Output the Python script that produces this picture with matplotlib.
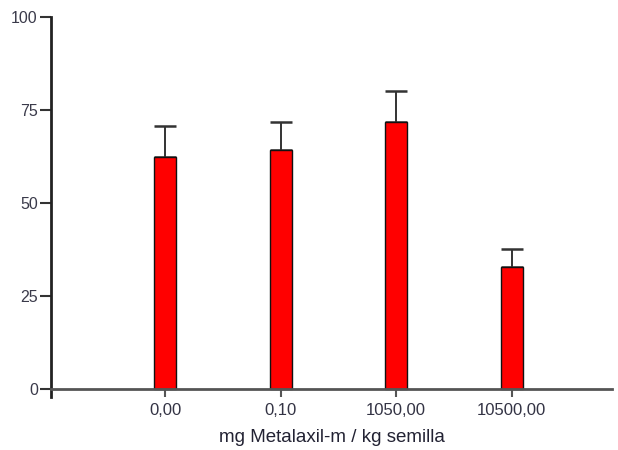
import matplotlib
matplotlib.use("Agg")
import matplotlib.pyplot as plt
import numpy as np

categories = ["0,00", "0,10", "1050,00", "10500,00"]
means = [62.4, 64.2, 71.9, 32.9]
errors = [8.3, 7.7, 8.2, 4.7]
yticks = [0, 25, 50, 75, 100]
xlabel = "mg Metalaxil-m / kg semilla"

plt.rcParams['font.family'] = ['Liberation Sans', 'DejaVu Sans']

fig = plt.figure(figsize=(6.18, 4.5), dpi=100)
ax = fig.add_axes([51/618, 1-397.2/450, (612-51)/618, (397.2-17)/450])

x = np.arange(len(categories))
ax.bar(x, means, width=0.19, color='#ff0000', edgecolor='#111111', linewidth=1.0, zorder=2)
ax.errorbar(x, means, yerr=[np.zeros(len(errors)), errors], fmt='none',
            ecolor='#333333', elinewidth=1.4, capsize=8, capthick=1.8, zorder=1)

for s in ['top', 'right']:
    ax.spines[s].set_visible(False)
ax.spines['bottom'].set_position(('data', 0))
ax.spines['bottom'].set_color('#555555')
ax.spines['bottom'].set_linewidth(2)
ax.spines['left'].set_color('#222222')
ax.spines['left'].set_linewidth(2)
ax.tick_params(axis='y', direction='out', length=8, width=1.5, color='#333333', pad=1.5,
               labelsize=11.5, labelcolor='#3a3a4a')
ax.tick_params(axis='x', direction='out', length=6, width=1.5, color='#555555', pad=4,
               labelsize=12, labelcolor='#333344')

ax.set_xlim(-0.99, 3.87)
ax.set_ylim(-2.2, 100)
ax.set_xticks(x, categories)
ax.set_yticks(yticks, [str(v) for v in yticks])
ax.set_xlabel(xlabel, fontsize=13.5, color='#222233', labelpad=8)

fig.savefig("out.png", dpi=100)
